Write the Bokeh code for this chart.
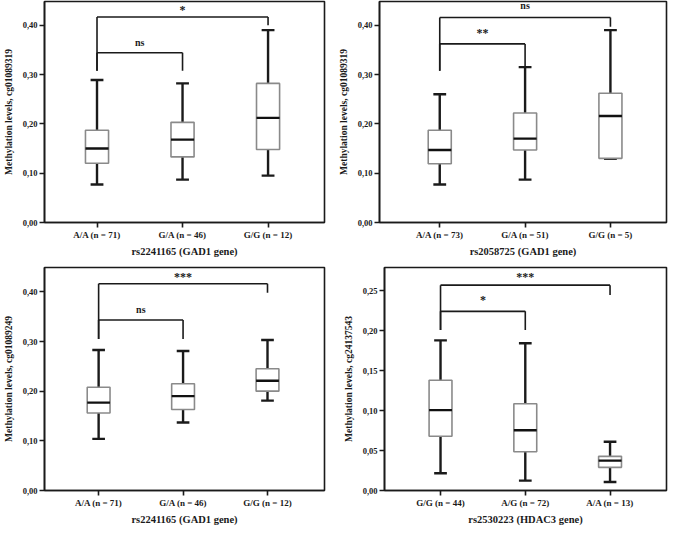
from bokeh.plotting import figure
from bokeh.layouts import row, column
from bokeh.models import FixedTicker, CustomJSTickFormatter, Range1d
from bokeh.core.properties import value
from bokeh.embed import file_html
from bokeh.resources import INLINE

FONT = "Liberation Serif"

# ---------------- data ----------------
# Panel 1: rs2241165 vs cg01089319
p1_groups = ["A/A (n = 71)", "G/A (n = 46)", "G/G (n = 12)"]
p1_low = [0.077, 0.087, 0.095]
p1_q1 = [0.120, 0.133, 0.148]
p1_med = [0.150, 0.168, 0.212]
p1_q3 = [0.187, 0.203, 0.282]
p1_high = [0.289, 0.282, 0.390]
p1_brackets = [(0, 1, 0.344, 0.3075, 0.3075, "ns", 0.365),
               (0, 2, 0.4167, 0.3075, 0.400, "*", 0.430)]

# Panel 2: rs2058725 vs cg01089319
p2_groups = ["A/A (n = 73)", "G/A (n = 51)", "G/G (n = 5)"]
p2_low = [0.077, 0.087, 0.129]
p2_q1 = [0.119, 0.147, 0.130]
p2_med = [0.147, 0.170, 0.216]
p2_q3 = [0.187, 0.222, 0.262]
p2_high = [0.260, 0.315, 0.390]
p2_brackets = [(0, 1, 0.362, 0.3075, 0.3075, "**", 0.384),
               (0, 2, 0.4155, 0.3075, 0.397, "ns", 0.440)]

# Panel 3: rs2241165 vs cg01089249
p3_groups = ["A/A (n = 71)", "G/A (n = 46)", "G/G (n = 12)"]
p3_low = [0.104, 0.137, 0.181]
p3_q1 = [0.156, 0.163, 0.200]
p3_med = [0.177, 0.190, 0.221]
p3_q3 = [0.208, 0.215, 0.245]
p3_high = [0.283, 0.281, 0.303]
p3_brackets = [(0, 1, 0.3433, 0.305, 0.305, "ns", 0.365),
               (0, 2, 0.4163, 0.305, 0.398, "***", 0.430)]

# Panel 4: rs2530223 vs cg24137543
p4_groups = ["G/G (n = 44)", "A/G (n = 72)", "A/A (n = 13)"]
p4_low = [0.0216, 0.0124, 0.0107]
p4_q1 = [0.068, 0.0485, 0.029]
p4_med = [0.1007, 0.0755, 0.0374]
p4_q3 = [0.138, 0.1087, 0.0428]
p4_high = [0.188, 0.1845, 0.061]
p4_brackets = [(0, 1, 0.2244, 0.201, 0.201, "*", 0.238),
               (0, 2, 0.2572, 0.201, 0.245, "***", 0.268)]


def make_panel(groups, low, q1, med, q3, high, brackets, xlabel, ylabel,
               yticks, yr, xr, width, height, borders):
    p = figure(width=width, height=height, output_backend="svg",
               toolbar_location=None, x_range=Range1d(*xr), y_range=Range1d(*yr),
               min_border_left=borders[0], min_border_right=borders[1],
               min_border_top=borders[2], min_border_bottom=borders[3],
               background_fill_color="white", border_fill_color="white")
    p.xgrid.visible = False
    p.ygrid.visible = False
    p.outline_line_color = "#1a1a1a"
    p.outline_line_width = 1.6
    p.outline_line_alpha = 1.0

    xs = [i + 1 for i in range(len(groups))]
    bw = 0.135
    cw = 0.075

    # whiskers
    p.segment(x0=xs, x1=xs, y0=q3, y1=high, line_color="#1a1a1a", line_width=2.4)
    p.segment(x0=xs, x1=xs, y0=low, y1=q1, line_color="#1a1a1a", line_width=2.4)
    p.segment(x0=[x - cw for x in xs], x1=[x + cw for x in xs], y0=high, y1=high,
              line_color="#1a1a1a", line_width=2.4)
    p.segment(x0=[x - cw for x in xs], x1=[x + cw for x in xs], y0=low, y1=low,
              line_color="#1a1a1a", line_width=2.4)
    # boxes
    p.quad(left=[x - bw for x in xs], right=[x + bw for x in xs], bottom=q1, top=q3,
           fill_color="white", line_color="#8a8a8a", line_width=1.6)
    p.segment(x0=[x - bw for x in xs], x1=[x + bw for x in xs], y0=med, y1=med,
              line_color="#111111", line_width=2.4)

    # significance brackets
    for (i, j, ybar, yl, yr_, lab, ylab) in brackets:
        xi, xj = xs[i], xs[j]
        p.segment(x0=[xi, xi, xj], x1=[xj, xi, xj], y0=[ybar, ybar, ybar],
                  y1=[ybar, yl, yr_], line_color="#1a1a1a", line_width=1.6)
        size = "12px" if lab.startswith("*") else "10px"
        p.text(x=[(xi + xj) / 2], y=[ylab], text=[lab], text_font=value(FONT),
               text_font_size=size, text_font_style="bold", text_color="#1a1a1a",
               text_align="center", text_baseline="middle")

    # axes
    p.xaxis.ticker = FixedTicker(ticks=xs)
    p.xaxis.major_label_overrides = {x: g for x, g in zip(xs, groups)}
    p.yaxis.ticker = FixedTicker(ticks=yticks)
    p.yaxis.formatter = CustomJSTickFormatter(code="return tick.toFixed(2).replace('.', ',');")
    for ax in (p.xaxis[0], p.yaxis[0]):
        ax.axis_line_color = "#1a1a1a"
        ax.axis_line_width = 1.6
        ax.major_tick_line_color = "#1a1a1a"
        ax.major_tick_line_width = 1.6
        ax.major_tick_out = 5
        ax.major_tick_in = 0
        ax.minor_tick_line_color = None
        ax.major_label_text_font = FONT
        ax.major_label_text_font_style = "bold"
        ax.major_label_text_color = "#1a1a1a"
        ax.axis_label_text_font = FONT
        ax.axis_label_text_font_style = "bold"
        ax.axis_label_text_color = "#1a1a1a"
        ax.major_label_standoff = 2
    p.xaxis.major_label_text_font_size = "9px"
    p.yaxis.major_label_text_font_size = "8.5px"
    p.xaxis.axis_label = xlabel
    p.yaxis.axis_label = ylabel
    p.xaxis.axis_label_text_font_size = "10.5px"
    p.yaxis.axis_label_text_font_size = "9.5px"
    p.xaxis.axis_label_standoff = 3
    p.yaxis.axis_label_standoff = 6
    return p


f1 = make_panel(p1_groups, p1_low, p1_q1, p1_med, p1_q3, p1_high, p1_brackets,
                "rs2241165 (GAD1 gene)", "Methylation levels, cg01089319",
                [0, 0.1, 0.2, 0.3, 0.4], (0, 0.448), (0.386, 3.66),
                332, 259, (38, 8, 1, 36))
f2 = make_panel(p2_groups, p2_low, p2_q1, p2_med, p2_q3, p2_high, p2_brackets,
                "rs2058725 (GAD1 gene)", "Methylation levels, cg01089319",
                [0, 0.1, 0.2, 0.3, 0.4], (0, 0.448), (0.294, 3.657),
                337, 259, (47, 3, 1, 36))
f3 = make_panel(p3_groups, p3_low, p3_q1, p3_med, p3_q3, p3_high, p3_brackets,
                "rs2241165 (GAD1 gene)", "Methylation levels, cg01089249",
                [0, 0.1, 0.2, 0.3, 0.4], (0, 0.449), (0.359, 3.675),
                332, 268, (38, 8, 8, 34))
f4 = make_panel(p4_groups, p4_low, p4_q1, p4_med, p4_q3, p4_high, p4_brackets,
                "rs2530223 (HDAC3 gene)", "Methylation levels, cg24137543",
                [0, 0.05, 0.1, 0.15, 0.2, 0.25], (0, 0.2793), (0.339, 3.666),
                337, 268, (52, 3, 8, 34))

layout = column(row(f1, f2), row(f3, f4))

open("out.html", "w").write(file_html(layout, INLINE))
